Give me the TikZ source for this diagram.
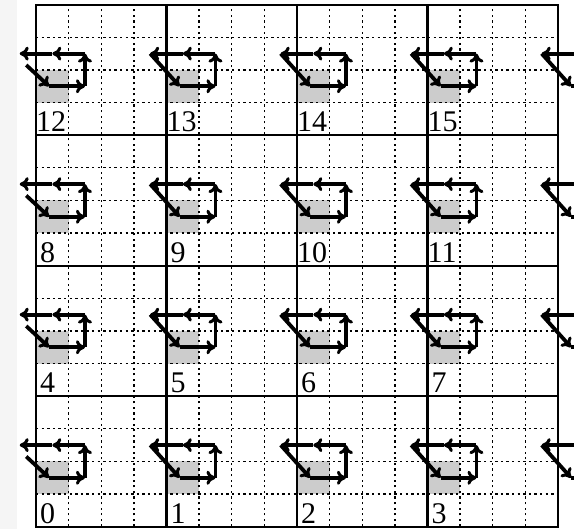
\documentclass[tikz,border=0pt]{standalone}
\usepackage{fontspec}
\setmainfont{Liberation Serif}
\usepackage{tikz}
\usetikzlibrary{arrows.meta}

\begin{document}
\begin{tikzpicture}[
  x=1pt, y=1pt,
  subgrid/.style={draw=black, line width=1.3pt, dash pattern=on 2.3pt off 3.3pt},
  blockline/.style={draw=black, line width=2.2pt, line cap=rect},
  marked/.style={fill=black!20},
  hop/.style={-{Computer Modern Rightarrow[length=9pt,width=14pt,line width=3pt]}, line width=3.8pt},
  blockno/.style={anchor=base west, inner sep=0pt, font=\fontsize{30}{32}\selectfont}
]

\def\s{32.625}
\def\ox{36}
\def\oy{2.3}

\useasboundingbox (0,0) rectangle (574,529);
\fill[black!4] (0,0) rectangle (17,529);
\clip (0,0) rectangle (574,529);

% shaded sub-cells
\foreach \r in {0,...,3}
  \foreach \c in {0,...,3}
    \fill[marked] (\ox+4*\c*\s,\oy+4*\r*\s+\s) rectangle ++(\s,\s);

% fine grid
\foreach \k in {1,...,15} {
  \draw[subgrid] (\ox+\k*\s,\oy) -- ++(0,16*\s);
  \draw[subgrid] (\ox,\oy+\k*\s) -- ++(16*\s,0);
}

% block borders
\foreach \k in {0,...,4} {
  \draw[blockline] (\ox+4*\k*\s,\oy) -- ++(0,16*\s);
  \draw[blockline] (\ox,\oy+4*\k*\s) -- ++(16*\s,0);
}

% traversal in every block
\foreach \r in {0,...,3}
  \foreach \c in {0,...,4} {
    \begin{scope}[shift={(\ox+4*\c*\s,\oy+4*\r*\s)}, x=\s pt, y=\s pt]
      \coordinate (far\c\r) at (-0.5,2.5);
      \coordinate (mid\c\r) at (0.5,2.5);
      \coordinate (top\c\r) at (1.5,2.5);
      \coordinate (low\c\r) at (1.5,1.5);
      \coordinate (in\c\r) at (0.4,1.5);
      \ifnum\c=0
        \coordinate (src\c\r) at (-0.3,2.15);
      \else
        \coordinate (src\c\r) at (far\c\r);
      \fi
      \draw[hop] (in\c\r) -- (low\c\r);
      \draw[hop] (low\c\r) -- (top\c\r);
      \draw[hop] (top\c\r) -- (mid\c\r);
      \draw[hop] (mid\c\r) -- (far\c\r);
      \draw[hop] (src\c\r) -- (in\c\r);
    \end{scope}
  }

% block numbers
\foreach \r in {0,...,3}
  \foreach \c in {0,...,3} {
    \pgfmathtruncatemacro\n{4*\r+\c}
    \pgfmathsetmacro\dx{\n<10 ? 4 : 0}
    \node[blockno] (no\n) at (\ox+4*\c*\s+\dx,\oy+4*\r*\s+3.4) {\n};
  }

\end{tikzpicture}
\end{document}
